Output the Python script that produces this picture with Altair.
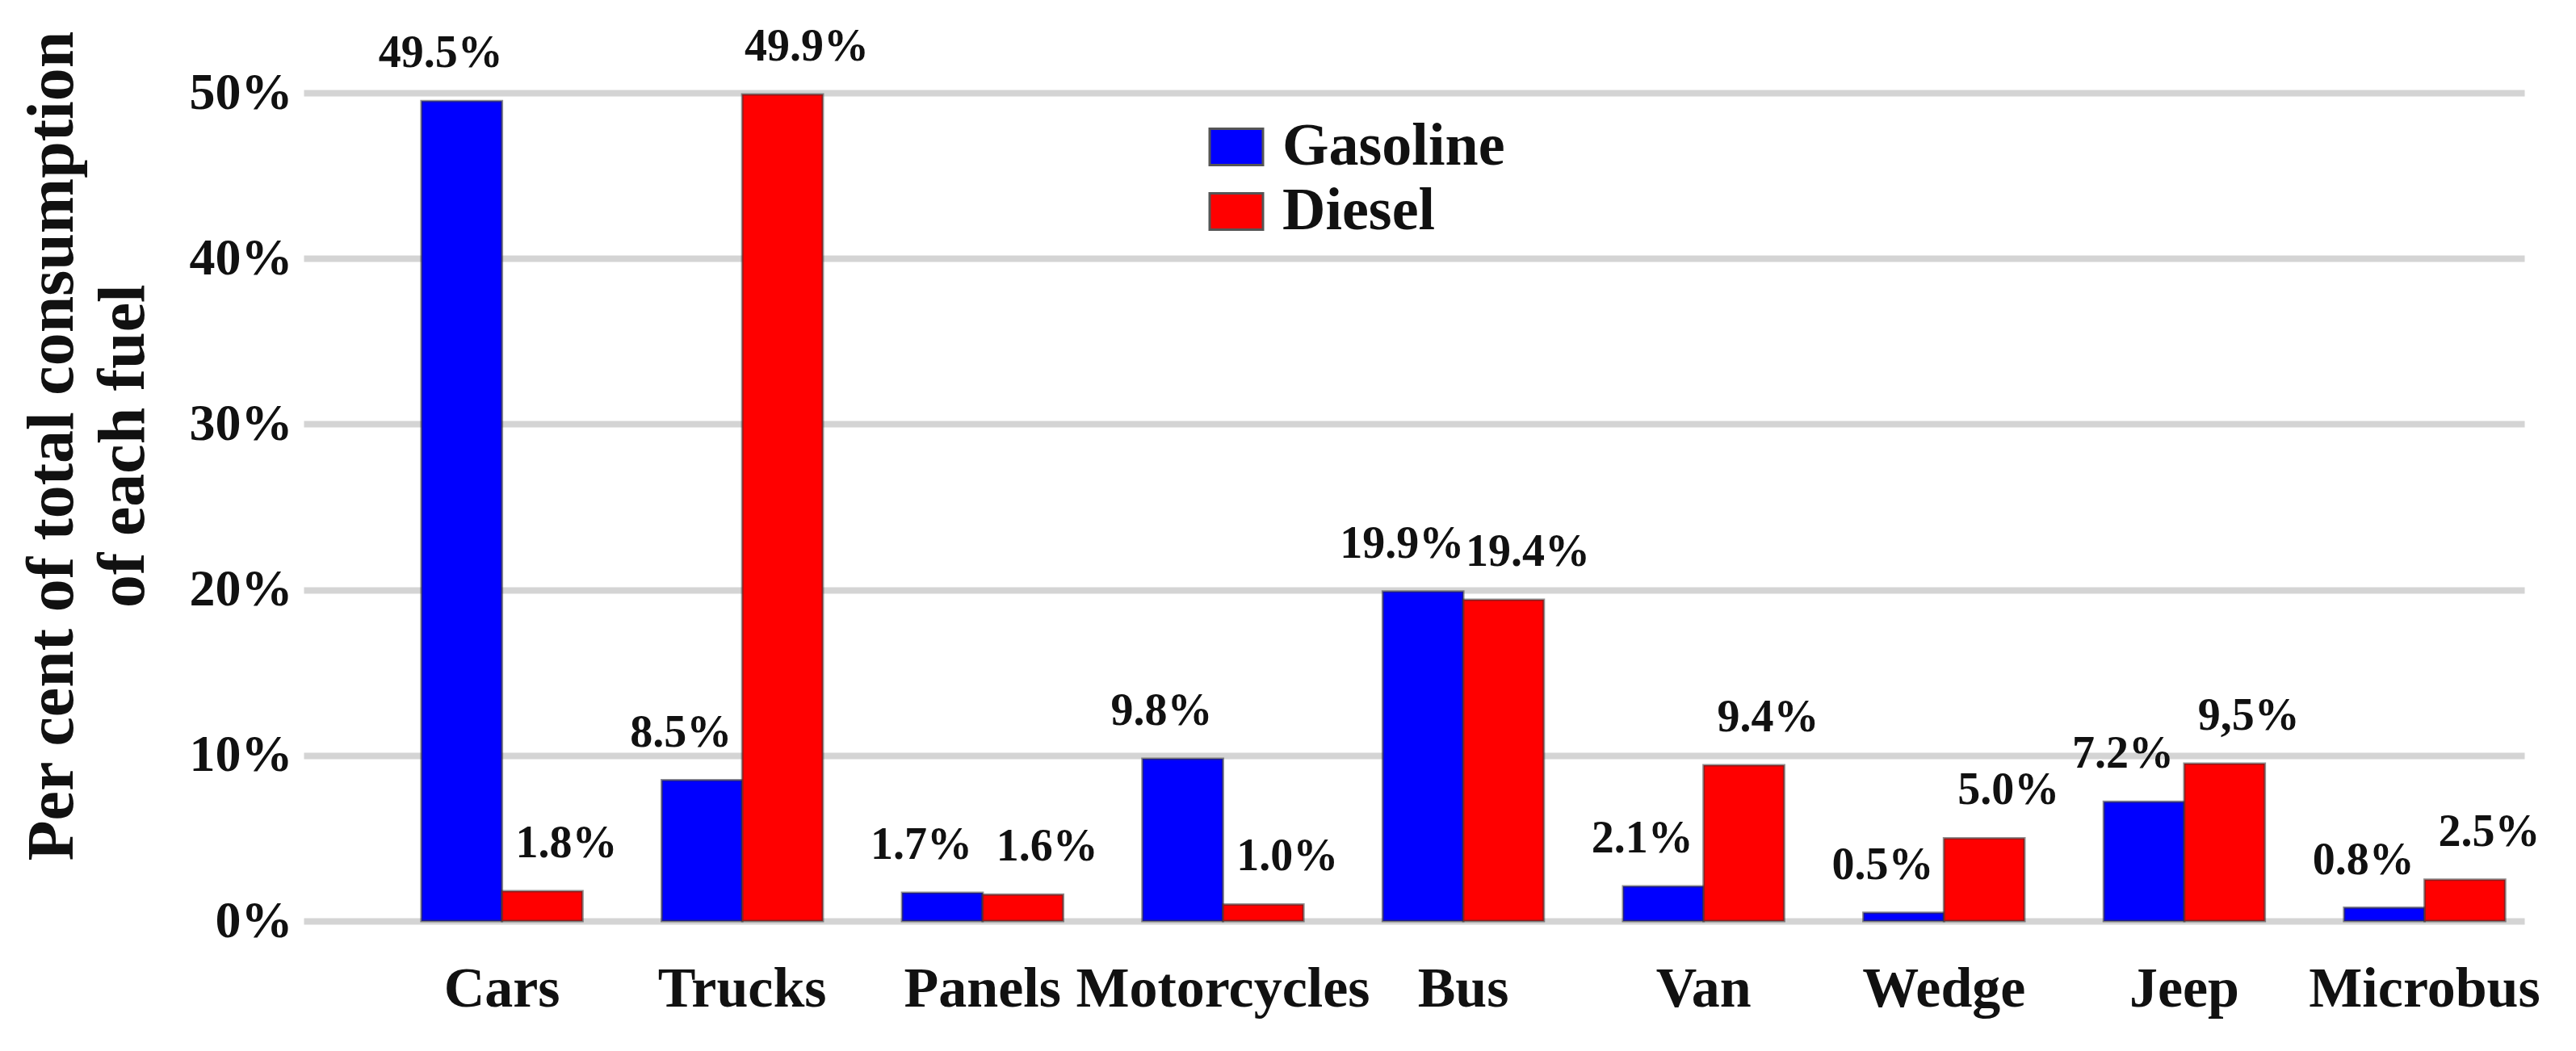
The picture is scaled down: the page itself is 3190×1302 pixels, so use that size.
import altair as alt
import pandas as pd

categories = ["Cars", "Trucks", "Panels", "Motorcycles", "Bus", "Van", "Wedge", "Jeep", "Microbus"]
fuels = ["Gasoline", "Diesel"]
gasoline = [49.5, 8.5, 1.7, 9.8, 19.9, 2.1, 0.5, 7.2, 0.8]
diesel = [1.8, 49.9, 1.6, 1.0, 19.4, 9.4, 5.0, 9.5, 2.5]
gasoline_labels = ["49.5%", "8.5%", "1.7%", "9.8%", "19.9%", "2.1%", "0.5%", "7.2%", "0.8%"]
diesel_labels = ["1.8%", "49.9%", "1.6%", "1.0%", "19.4%", "9.4%", "5.0%", "9,5%", "2.5%"]
y_ticks = [0, 10, 20, 30, 40, 50]
colors = ["#0000FF", "#FF0000"]

rows = []
for i, c in enumerate(categories):
    rows.append({"category": c, "fuel": "Gasoline", "value": gasoline[i], "label": gasoline_labels[i]})
    rows.append({"category": c, "fuel": "Diesel", "value": diesel[i], "label": diesel_labels[i]})
df = pd.DataFrame(rows)

FONT = "Liberation Serif"

base = alt.Chart(df).encode(
    x=alt.X(
        "category:N",
        sort=categories,
        scale=alt.Scale(paddingInner=0.33, paddingOuter=0.285, align=0.86),
        axis=alt.Axis(
            title=None, labelAngle=0, labelFont=FONT, labelFontWeight="bold",
            labelFontSize=70, labelColor="#111111", labelPadding=50, labelLimit=0,
            ticks=False, domain=False, labelOverlap=False, grid=False,
        ),
    ),
    xOffset=alt.XOffset("fuel:N", sort=fuels, scale=alt.Scale(paddingInner=0, paddingOuter=0)),
    y=alt.Y(
        "value:Q",
        scale=alt.Scale(domain=[0, 50], nice=False),
        axis=alt.Axis(
            values=y_ticks, labelExpr="datum.value + '%'",
            title=["Per cent of total consumption", "of each fuel"],
            titleFont=FONT, titleFontSize=82, titleFontWeight="bold",
            titleLineHeight=88, titlePadding=40, titleColor="#111111", titleY=437,
            labelFont=FONT, labelFontSize=64, labelFontWeight="bold",
            labelColor="#111111", labelPadding=14,
            ticks=False, domain=False, gridColor="#d4d4d4", gridWidth=8,
        ),
    ),
)

bars = base.mark_bar(stroke="#333333", strokeWidth=3, strokeOpacity=0.55).encode(
    color=alt.Color(
        "fuel:N",
        sort=fuels,
        scale=alt.Scale(domain=fuels, range=colors),
        legend=alt.Legend(
            title=None, orient="none", legendX=1118, legendY=30,
            labelFont=FONT, labelFontSize=74, labelFontWeight="bold",
            labelColor="#111111", labelLimit=0,
            symbolType="M-1,-0.68H1V0.68H-1Z", symbolSize=4356,
            symbolStrokeColor="#555555", symbolStrokeWidth=3,
            labelOffset=20, rowPadding=6,
        ),
    )
)

gas_labels = base.transform_filter(alt.datum.fuel == "Gasoline").mark_text(
    font=FONT, fontWeight="bold", fontSize=56, baseline="bottom", dy=-30, dx=-26, color="#111111"
).encode(text="label:N")

die_labels = base.transform_filter(alt.datum.fuel == "Diesel").mark_text(
    font=FONT, fontWeight="bold", fontSize=56, baseline="bottom", dy=-30, dx=30, color="#111111"
).encode(text="label:N")

chart = (
    alt.layer(bars, gas_labels, die_labels)
    .properties(width=2750, height=1026, padding={"left": 14, "top": 22, "right": 10, "bottom": 10}, background="white")
    .configure_view(stroke=None)
)

chart.save("out.html", embed_options={"renderer": "svg", "actions": False})
